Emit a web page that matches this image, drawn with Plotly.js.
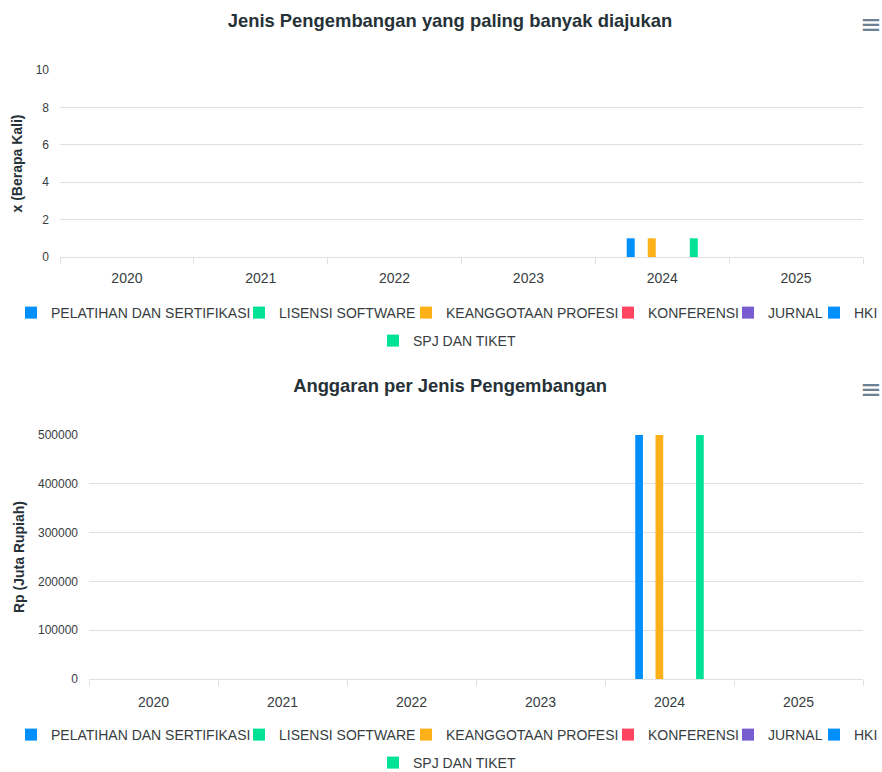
<!DOCTYPE html>
<html>
<head>
<meta charset="utf-8">
<script src="https://cdn.plot.ly/plotly-3.0.1.min.js"></script>
<style>
  html, body { margin: 0; padding: 0; background: #ffffff; }
  #c1 { position: absolute; left: 0; top: 0; width: 882px; height: 365px; }
  #c2 { position: absolute; left: 0; top: 365px; width: 882px; height: 407px; }
</style>
</head>
<body>
<div id="c1"></div>
<div id="c2"></div>
<script>
// ---- data ----
const years = ['2020', '2021', '2022', '2023', '2024', '2025'];
const seriesNames = ['PELATIHAN DAN SERTIFIKASI', 'LISENSI SOFTWARE', 'KEANGGOTAAN PROFESI', 'KONFERENSI', 'JURNAL', 'HKI', 'SPJ DAN TIKET'];
const seriesColors = ['#008FFB', '#00E396', '#FEB019', '#FF4560', '#775DD0', '#008FFB', '#00E396'];

// Chart 1: number of submissions (x / Berapa Kali)
const pelatihanCount   = [0, 0, 0, 0, 1, 0];
const lisensiCount     = [0, 0, 0, 0, 0, 0];
const keanggotaanCount = [0, 0, 0, 0, 1, 0];
const konferensiCount  = [0, 0, 0, 0, 0, 0];
const jurnalCount      = [0, 0, 0, 0, 0, 0];
const hkiCount         = [0, 0, 0, 0, 0, 0];
const spjCount         = [0, 0, 0, 0, 1, 0];

// Chart 2: budget (Rp, Juta Rupiah)
const pelatihanBudget   = [0, 0, 0, 0, 500000, 0];
const lisensiBudget     = [0, 0, 0, 0, 0, 0];
const keanggotaanBudget = [0, 0, 0, 0, 500000, 0];
const konferensiBudget  = [0, 0, 0, 0, 0, 0];
const jurnalBudget      = [0, 0, 0, 0, 0, 0];
const hkiBudget         = [0, 0, 0, 0, 0, 0];
const spjBudget         = [0, 0, 0, 0, 500000, 0];

const chart1Title = 'Jenis Pengembangan yang paling banyak diajukan';
const chart1YTitle = 'x (Berapa Kali)';
const chart1YTicks = [0, 2, 4, 6, 8, 10];
const chart2Title = 'Anggaran per Jenis Pengembangan';
const chart2YTitle = 'Rp (Juta Rupiah)';
const chart2YTicks = [0, 100000, 200000, 300000, 400000, 500000];

const countSeries = [pelatihanCount, lisensiCount, keanggotaanCount, konferensiCount, jurnalCount, hkiCount, spjCount];
const budgetSeries = [pelatihanBudget, lisensiBudget, keanggotaanBudget, konferensiBudget, jurnalBudget, hkiBudget, spjBudget];

// ---- styling ----
const FONT = 'Liberation Sans, Arial, Helvetica, sans-serif';
const GRID = '#e0e0e0';
const LABEL = '#373d3f';
// legend entry left edges (px) and row for each series
const legendLeft = [11, 239, 406, 608, 728, 814, 373];
const legendRow  = [0, 0, 0, 0, 0, 0, 1];

function legendId(i) { return i === 0 ? 'legend' : 'legend' + (i + 1); }

function makeTraces(valueSets) {
  return valueSets.map((vals, i) => ({
    type: 'bar',
    name: seriesNames[i],
    x: years,
    y: vals,
    marker: { color: seriesColors[i] },
    legend: legendId(i),
    hoverinfo: 'x+y+name'
  }));
}

function makeLayout(opts) {
  const legendFont = { family: FONT, size: 14, color: LABEL };
  const layout = {
    width: 882,
    height: opts.height,
    margin: { l: opts.left, r: 19, t: 70, b: opts.height - 70 - opts.plotH },
    paper_bgcolor: '#ffffff',
    plot_bgcolor: '#ffffff',
    font: { family: FONT, color: LABEL },
    title: {
      text: '<b>' + opts.title + '</b>',
      font: { family: FONT, size: 18.4, color: '#263238' },
      xref: 'container', x: 450 / 882, xanchor: 'center',
      yref: 'container', y: 1 - 21 / opts.height, yanchor: 'middle'
    },
    barmode: 'group',
    bargap: 0.45,
    bargroupgap: 0.24,
    showlegend: true,
    xaxis: {
      type: 'category',
      tickson: 'boundaries',
      ticks: 'outside', ticklen: 6, tickcolor: GRID,
      showline: true, linecolor: GRID, linewidth: 1,
      showgrid: false, zeroline: false,
      ticklabelstandoff: opts.xstandoff,
      tickfont: { family: FONT, size: 14, color: LABEL },
      fixedrange: true
    },
    yaxis: {
      range: [0, opts.ymax],
      tickvals: opts.yticks,
      ticktext: opts.yticks.map(String),
      showgrid: true, gridcolor: GRID, gridwidth: 1,
      zeroline: false, showline: false, ticks: '',
      ticklabelstandoff: 10,
      tickfont: { family: FONT, size: 12, color: LABEL },
      title: {
        text: '<b>' + opts.ytitle + '</b>',
        font: { family: FONT, size: 14, color: '#263238' },
        standoff: opts.standoff
      },
      automargin: false,
      fixedrange: true
    },
    annotations: [{
      text: '\u2261', xref: 'paper', yref: 'paper', showarrow: false,
      x: (871 - opts.left) / (863 - opts.left), y: 1 + (70 - 24) / opts.plotH,
      xanchor: 'center', yanchor: 'middle',
      font: { family: 'DejaVu Sans, sans-serif', size: 26, color: '#6e8192' }
    }]
  };
  seriesNames.forEach((n, i) => {
    const rowTop = opts.plotBottom + (legendRow[i] === 0 ? 40 : 68);
    layout[legendId(i)] = {
      orientation: 'h',
      xref: 'container', x: legendLeft[i] / 882, xanchor: 'left',
      yref: 'container', y: 1 - rowTop / opts.height, yanchor: 'top',
      font: legendFont, itemwidth: 30, itemclick: false, itemdoubleclick: false,
      bgcolor: 'rgba(0,0,0,0)', borderwidth: 0
    };
  });
  return layout;
}

const config = { displayModeBar: false, responsive: false };

Plotly.newPlot('c1', makeTraces(countSeries), makeLayout({
  height: 365, left: 60, plotH: 187, plotBottom: 257, xstandoff: 8,
  title: chart1Title, ytitle: chart1YTitle, ymax: 10, yticks: chart1YTicks, standoff: 9
}), config);

Plotly.newPlot('c2', makeTraces(budgetSeries), makeLayout({
  height: 407, left: 89, plotH: 244, plotBottom: 679 - 365, xstandoff: 10,
  title: chart2Title, ytitle: chart2YTitle, ymax: 500000, yticks: chart2YTicks, standoff: 10
}), config);
</script>
</body>
</html>
